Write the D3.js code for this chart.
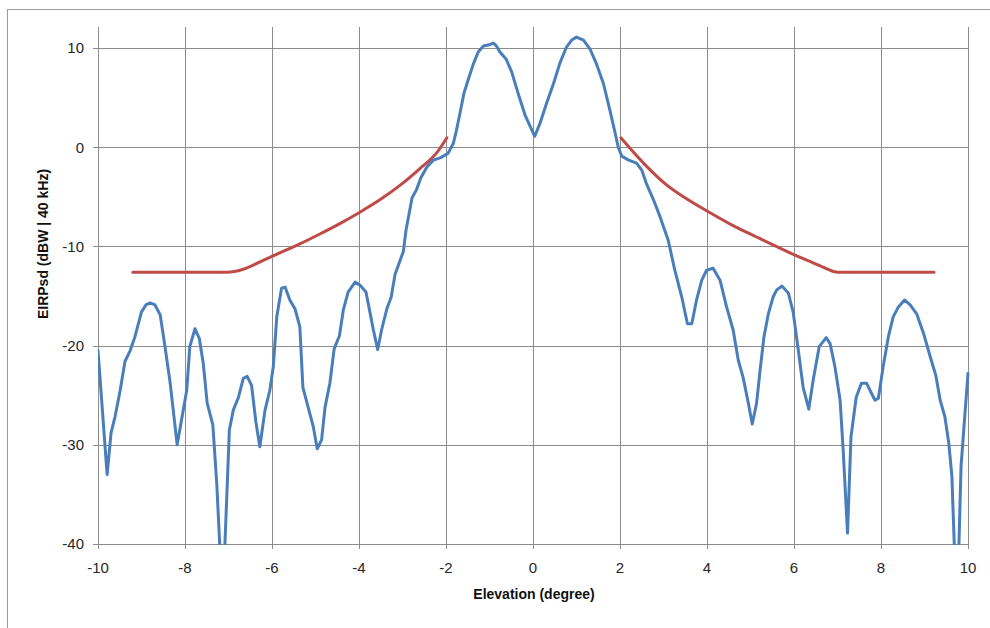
<!DOCTYPE html>
<html>
<head>
<meta charset="utf-8">
<script src="https://cdn.jsdelivr.net/npm/d3@7"></script>
<style>
  html, body { margin: 0; padding: 0; background: #fff; }
  svg { display: block; }
</style>
</head>
<body>
<svg id="chart" width="990" height="628"></svg>
<script>
// ---- Data ----
const xTicks = [-10, -8, -6, -4, -2, 0, 2, 4, 6, 8, 10];
const yTicks = [10, 0, -10, -20, -30, -40];

// Antenna pattern (blue)
const patternElev = [-10.0,-9.79,-9.70,-9.61,-9.49,-9.38,-9.26,-9.15,-9.0,-8.90,-8.80,-8.69,-8.57,-8.46,-8.34,-8.18,-8.08,-7.96,-7.89,-7.77,-7.67,-7.58,-7.49,-7.36,-7.27,-7.18,-7.10,-6.98,-6.89,-6.77,-6.66,-6.57,-6.47,-6.37,-6.28,-6.16,-6.05,-5.97,-5.89,-5.78,-5.70,-5.59,-5.47,-5.36,-5.29,-5.17,-5.05,-4.96,-4.86,-4.78,-4.67,-4.57,-4.45,-4.36,-4.25,-4.09,-3.98,-3.84,-3.75,-3.67,-3.57,-3.48,-3.36,-3.26,-3.17,-2.98,-2.92,-2.78,-2.68,-2.58,-2.44,-2.29,-2.12,-1.95,-1.83,-1.76,-1.68,-1.59,-1.49,-1.37,-1.26,-1.14,-1.03,-0.91,-0.84,-0.76,-0.62,-0.49,-0.34,-0.18,0.04,0.16,0.31,0.47,0.62,0.77,0.89,1.0,1.16,1.31,1.46,1.62,1.77,1.89,1.96,2.04,2.2,2.38,2.50,2.61,2.77,2.92,3.11,3.26,3.42,3.55,3.65,3.76,3.88,3.99,4.14,4.30,4.45,4.60,4.72,4.83,4.95,5.04,5.14,5.22,5.31,5.41,5.52,5.60,5.72,5.87,5.98,6.10,6.21,6.34,6.44,6.58,6.74,6.83,6.94,7.06,7.13,7.23,7.31,7.43,7.55,7.67,7.78,7.86,7.94,8.05,8.17,8.28,8.40,8.54,8.67,8.82,8.98,9.13,9.26,9.36,9.47,9.56,9.63,9.70,9.78,9.84,9.89,10.0];
const patternEirp = [-20.5,-33.0,-28.8,-27.2,-24.5,-21.6,-20.5,-19.1,-16.6,-15.9,-15.7,-15.9,-16.9,-20.1,-23.8,-30.0,-27.5,-24.5,-20.1,-18.3,-19.3,-21.8,-25.8,-28.0,-33.9,-42,-42,-28.5,-26.5,-25.2,-23.3,-23.1,-24.0,-27.7,-30.2,-26.5,-24.5,-22.1,-17.1,-14.2,-14.1,-15.4,-16.3,-18.1,-24.2,-26.2,-28.2,-30.4,-29.5,-26.2,-23.8,-20.3,-19.0,-16.4,-14.6,-13.6,-13.9,-14.6,-16.6,-18.4,-20.4,-18.4,-16.3,-15.1,-12.8,-10.5,-8.4,-5.1,-4.3,-3.1,-2.0,-1.3,-1.05,-0.6,0.4,1.7,3.4,5.4,6.8,8.4,9.6,10.2,10.3,10.5,10.2,9.6,8.9,7.6,5.4,3.2,1.1,2.4,4.4,6.4,8.5,10.1,10.8,11.1,10.8,9.9,8.4,6.4,3.7,1.4,0.0,-0.9,-1.3,-1.6,-2.3,-3.7,-5.3,-7.0,-9.4,-12.4,-15.1,-17.8,-17.8,-15.4,-13.4,-12.4,-12.2,-13.4,-16.1,-18.4,-21.5,-23.2,-25.8,-27.9,-25.8,-22.5,-19.1,-16.8,-15.1,-14.4,-14.0,-14.7,-16.6,-20.5,-24.2,-26.4,-23.5,-20.1,-19.2,-19.8,-22.1,-25.5,-30.5,-38.9,-29.2,-25.2,-23.8,-23.8,-24.8,-25.5,-25.3,-22.1,-19.1,-17.1,-16.1,-15.4,-15.9,-16.8,-18.8,-21.1,-23.0,-25.5,-27.2,-29.9,-33.2,-42,-42,-32.2,-29.2,-22.8];

// Mask (red), left and right segments
const maskLeftElev = [-9.2, -7.0, -6.9, -6.66, -6.43, -6.05, -5.36, -4.9, -4.44, -3.98, -3.52, -3.06, -2.6, -2.21, -1.98];
const maskLeftEirp = [-12.6, -12.6, -12.55, -12.3, -11.88, -11.1, -9.75, -8.75, -7.7, -6.55, -5.3, -3.85, -2.15, -0.55, 0.95];
const maskRightElev = [2.02, 2.54, 3.07, 3.53, 4.03, 4.60, 5.14, 5.64, 6.06, 6.44, 6.75, 6.93, 7.0, 9.22];
const maskRightEirp = [0.95, -1.6, -3.8, -5.2, -6.5, -7.9, -9.05, -10.1, -10.95, -11.65, -12.25, -12.55, -12.6, -12.6];

const xLabel = "Elevation (degree)";
const yLabel = "EIRPsd (dBW | 40 kHz)";

// ---- Layout ----
const svg = d3.select("#chart");
const L = 98, R = 968, T = 27, B = 544;
const x = d3.scaleLinear().domain([-10, 10]).range([L, R]);
const y = d3.scaleLinear().domain([-40, 12.12]).range([B, T]);
const gridColor = "#8c8c8c";
const font = "'Liberation Sans', Arial, sans-serif";

// outer frame
svg.append("rect").attr("x", 7.5).attr("y", 9.5).attr("width", 1000).attr("height", 700)
  .attr("fill", "none").attr("stroke", "#9a9a9a").attr("stroke-width", 1);

// gridlines
const g = svg.append("g");
g.selectAll("line.h").data(yTicks).join("line")
  .attr("x1", L - 5).attr("x2", R)
  .attr("y1", d => Math.round(y(d)) + 0.5).attr("y2", d => Math.round(y(d)) + 0.5)
  .attr("stroke", gridColor).attr("stroke-width", 1);
g.selectAll("line.v").data(xTicks).join("line")
  .attr("x1", d => Math.round(x(d)) + 0.5).attr("x2", d => Math.round(x(d)) + 0.5)
  .attr("y1", T).attr("y2", B + 5)
  .attr("stroke", gridColor).attr("stroke-width", 1);

// tick labels
svg.append("g").selectAll("text").data(yTicks).join("text")
  .attr("x", 84).attr("y", d => y(d)).attr("dy", "0.36em")
  .attr("text-anchor", "end").attr("font-family", font).attr("font-size", 15)
  .attr("fill", "#262626").text(d => d);
svg.append("g").selectAll("text").data(xTicks).join("text")
  .attr("x", d => x(d)).attr("y", 573)
  .attr("text-anchor", "middle").attr("font-family", font).attr("font-size", 15)
  .attr("fill", "#262626").text(d => d);

// axis titles
svg.append("text").attr("x", 534).attr("y", 599).attr("text-anchor", "middle")
  .attr("font-family", font).attr("font-size", 14).attr("font-weight", "bold")
  .attr("fill", "#111").text(xLabel);
svg.append("text").attr("transform", "translate(48,244) rotate(-90)")
  .attr("text-anchor", "middle")
  .attr("font-family", font).attr("font-size", 14).attr("font-weight", "bold")
  .attr("fill", "#111").text(yLabel);

// clip
svg.append("clipPath").attr("id", "plotclip").append("rect")
  .attr("x", L).attr("y", T).attr("width", R - L + 2).attr("height", B - T + 1);

const lineMask = d3.line().x(d => x(d[0])).y(d => y(d[1])).curve(d3.curveMonotoneX);
const linePat = d3.line().x(d => x(d[0])).y(d => y(d[1])).curve(d3.curveLinear);
const plot = svg.append("g").attr("clip-path", "url(#plotclip)");

const maskL = maskLeftElev.map((v, i) => [v, maskLeftEirp[i]]);
const maskR = maskRightElev.map((v, i) => [v, maskRightEirp[i]]);
[maskL, maskR].forEach(d => {
  plot.append("path").datum(d).attr("d", lineMask)
    .attr("fill", "none").attr("stroke", "#be4b48").attr("stroke-width", 3)
    .attr("stroke-linejoin", "round").attr("stroke-linecap", "round");
});

const pattern = patternElev.map((v, i) => [v, patternEirp[i]]);
plot.append("path").datum(pattern).attr("d", linePat)
  .attr("fill", "none").attr("stroke", "#4a7ebb").attr("stroke-width", 3)
  .attr("stroke-linejoin", "round").attr("stroke-linecap", "round");
</script>
</body>
</html>
